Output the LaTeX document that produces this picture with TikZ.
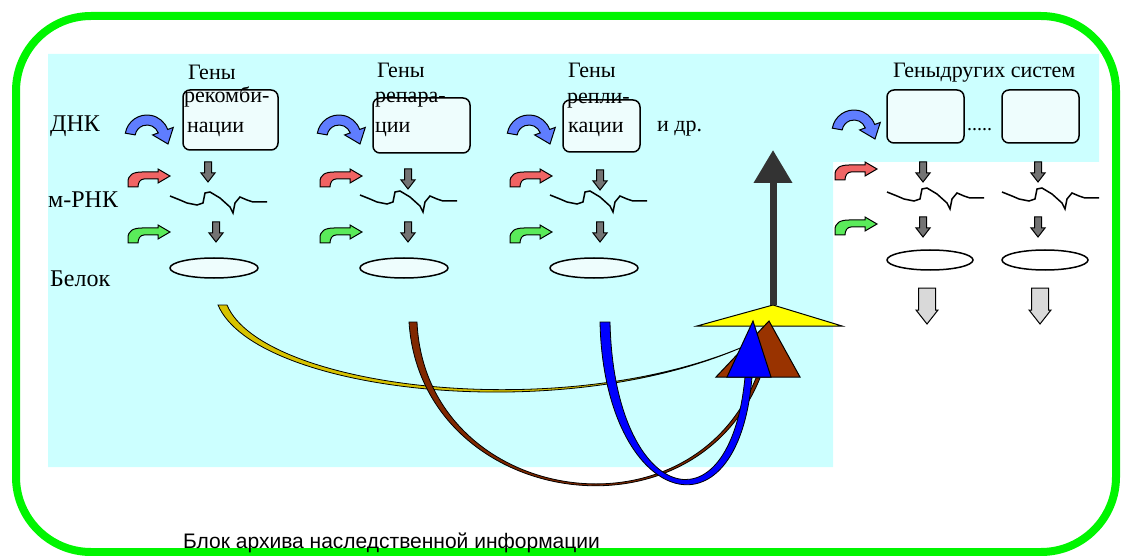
\documentclass[tikz,border=0pt]{standalone}
\usepackage{fontspec}
\setmainfont{Liberation Serif}
\newfontfamily\archfont{Liberation Sans}
\usetikzlibrary{shapes.geometric,arrows.meta}

\definecolor{archcyan}{RGB}{204,255,255}
\definecolor{framegreen}{RGB}{0,245,0}
\definecolor{dnkblue}{RGB}{95,125,255}
\definecolor{rnkred}{RGB}{240,100,100}
\definecolor{belgreen}{RGB}{90,235,90}
\definecolor{boxfill}{RGB}{238,253,253}
\definecolor{curveyellow}{RGB}{215,195,0}
\definecolor{curvebrown}{RGB}{128,40,0}
\definecolor{tentyellow}{RGB}{255,255,0}
\definecolor{trianbrown}{RGB}{153,51,0}

\tikzset{
    lbl/.style={anchor=base west, inner sep=0pt, font=\fontsize{22}{24}\selectfont},
    rowlbl/.style={lbl, font=\fontsize{24}{26}\selectfont},
    genebox/.style={draw, line width=1.5pt, rounded corners=7pt, fill=boxfill},
    protein/.style={draw, ellipse, line width=1.5pt, inner sep=0pt, minimum width=88pt, minimum height=20pt},
    dnkarrow/.pic={
        \draw[line width=1pt, fill=dnkblue] (-170:22) arc (-170:-20:22) -- (-20:28) -- (21,7) -- (-20:6) -- (-20:12) arc (-20:-170:12) -- cycle;
    },
    bentarrow/.pic={
        \draw[line width=1pt, fill=#1] (0,0) -- (0,-5) .. controls (0,-12) and (5,-15) .. (14,-15) -- (30,-15) -- (30,-18) -- (42,-11) -- (30,-4) -- (30,-8) -- (16,-8) .. controls (12,-8) and (10,-4) .. (10,0) -- cycle;
    },
    smalldown/.pic={
        \draw[line width=1pt, fill=black!55] (-3.5,0) -- (3.5,0) -- (3.5,11) -- (7,11) -- (0,20) -- (-7,11) -- (-3.5,11) -- cycle;
    },
    bigdown/.pic={
        \draw[line width=1pt, fill=black!15] (-8.5,0) -- (8.5,0) -- (8.5,22) -- (11,22) -- (0,36) -- (-11,22) -- (-8.5,22) -- cycle;
    },
    mrna/.pic={
        \draw[line width=1.5pt] (0,0) -- (10,4) -- (17,7) -- (27,9) -- (33,7) -- (35,-3) -- (40,-4) -- (50,2) -- (60,11) -- (63,17) -- (65,7) -- (70,1) -- (77,4) -- (83,6) -- (97,6);
    },
}

\begin{document}
\begin{tikzpicture}[x=1pt, y=-1pt]
        \useasboundingbox (0,0) rectangle (1122,556);

        \fill[archcyan] (48,54) -- (1099,54) -- (1099,162) -- (833,162) -- (833,467) -- (48,467) -- cycle;
        \draw[framegreen, line width=8pt, rounded corners=75pt] (16,16) rectangle (1116,552);

        \node[rowlbl] (dnk) at (50,132) {ДНК};
        \node[rowlbl] (mrnk) at (48,208) {м-РНК};
        \node[rowlbl] (belok) at (50,287) {Белок};

        \node[genebox, minimum width=95pt, minimum height=60pt] (box1) at (230.5,120) {};
        \node[genebox, minimum width=97pt, minimum height=55pt] (box2) at (421.5,125.5) {};
        \node[genebox, minimum width=77pt, minimum height=52pt] (box3) at (601.5,126) {};
        \node[genebox, minimum width=77pt, minimum height=53pt] (box4) at (925.5,116.5) {};
        \node[genebox, minimum width=77pt, minimum height=53pt] (box5) at (1040.5,116.5) {};

        \node[lbl] (gen1) at (188,80) {Гены};
        \node[lbl] (rek1) at (184,103) {рекомби-};
        \node[lbl] (rek2) at (187,133) {нации};
        \node[lbl] (gen2) at (377,78) {Гены};
        \node[lbl] (rep1) at (375,103) {репара-};
        \node[lbl] (rep2) at (375,133) {ции};
        \node[lbl] (gen3) at (568,78) {Гены};
        \node[lbl] (repl1) at (567,104) {репли-};
        \node[lbl] (repl2) at (568,133) {кации};
        \node[lbl] (idr) at (657,132) {и др.};
        \node[lbl] (gen4) at (893,78) {Геныдругих систем};
        \node[lbl, font=\fontsize{20}{24}\selectfont] (dots) at (967,131) {.....};

        \pic at (147,137) {dnkarrow};
        \pic at (339,137) {dnkarrow};
        \pic at (529,137) {dnkarrow};
        \pic at (854,132) {dnkarrow};

        \pic at (128,187) {bentarrow=rnkred};
        \pic at (320,187) {bentarrow=rnkred};
        \pic at (510,187) {bentarrow=rnkred};
        \pic at (835,180) {bentarrow=rnkred};
        \pic at (128,243) {bentarrow=belgreen};
        \pic at (320,243) {bentarrow=belgreen};
        \pic at (510,243) {bentarrow=belgreen};
        \pic at (835,235) {bentarrow=belgreen};

        \pic at (208,162) {smalldown};
        \pic at (216,222) {smalldown};
        \pic at (408,169) {smalldown};
        \pic at (408,222) {smalldown};
        \pic at (600,170) {smalldown};
        \pic at (600,222) {smalldown};
        \pic at (923,162) {smalldown};
        \pic at (923,217) {smalldown};
        \pic at (1038,162) {smalldown};
        \pic at (1038,217) {smalldown};

        \pic at (170,196) {mrna};
        \pic at (360,195) {mrna};
        \pic at (550,195) {mrna};
        \pic at (887,192) {mrna};
        \pic at (1002,192) {mrna};

        \node[protein, fill=boxfill] (bel1) at (214,268) {};
        \node[protein, fill=boxfill] (bel2) at (404,268) {};
        \node[protein, fill=boxfill] (bel3) at (594,268) {};
        \node[protein, fill=white, minimum width=86pt] (bel4) at (930,260) {};
        \node[protein, fill=white, minimum width=86pt] (bel5) at (1045,260) {};

        \pic at (927,288) {bigdown};
        \pic at (1040,288) {bigdown};

        \coordinate (yel-a) at (218,305);
        \coordinate (yel-b) at (227,305);
        \coordinate (yel-end) at (745,346);
        \coordinate (brn-a) at (409,322);
        \coordinate (brn-b) at (417,322);
        \coordinate (brn-c) at (756,378);
        \coordinate (brn-d) at (760,378);
        \coordinate (blu-a) at (600,322);
        \coordinate (blu-b) at (610,322);
        \coordinate (blu-c) at (745,377);
        \coordinate (blu-d) at (752,377);

        \draw[line width=0.8pt, fill=curveyellow] (yel-a) .. controls +(37,87) and +(-185,82) .. (yel-end) .. controls +(-185,79) and +(35,83) .. (yel-b) -- cycle;
        \draw[line width=0.8pt, fill=curvebrown] (brn-a) .. controls +(12,183) and +(-70,172) .. (brn-d) -- (brn-c) .. controls +(-68,169) and +(8,181) .. (brn-b) -- cycle;
        \draw[line width=0.8pt, fill=blue] (blu-a) .. controls +(4,183) and +(-14,171) .. (blu-d) -- (blu-c) .. controls +(-15,160) and +(4,181) .. (blu-b) -- cycle;

        \coordinate (tent-l) at (697,326);
        \coordinate (tent-r) at (842,326);
        \coordinate (tent-top) at (773,305);
        \coordinate (up-tip) at (773,150);
        \coordinate (brt-l) at (716,377);
        \coordinate (brt-r) at (800,377);
        \coordinate (brt-top) at (769,321);
        \coordinate (blt-l) at (727,377);
        \coordinate (blt-r) at (771,377);
        \coordinate (blt-top) at (753,321);

        \draw[line width=1pt, fill=tentyellow] (tent-l) -- (tent-top) -- (tent-r) -- cycle;
        \draw[line width=7pt, black!80, -{Triangle[width=37pt,length=33pt]}] (tent-top) -- (up-tip);
        \draw[line width=1pt, fill=trianbrown] (brt-l) -- (brt-top) -- (brt-r) -- cycle;
        \draw[line width=1pt, fill=blue] (blt-l) -- (blt-top) -- (blt-r) -- cycle;

        \node[anchor=base west, inner sep=0pt, font=\archfont\fontsize{21}{24}\selectfont] (arch) at (183,548) {Блок архива наследственной информации};
\end{tikzpicture}
\end{document}
